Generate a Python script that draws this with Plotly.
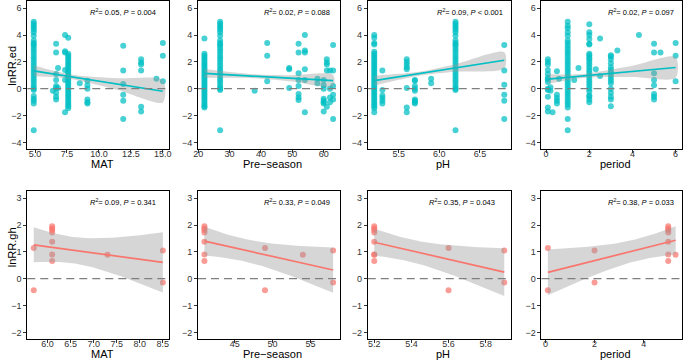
import numpy as np
import plotly.graph_objects as go

# ---------------- data ----------------
# top row: lnRR.ed   (x value of each column -> list of y values)
ed_mat_x = [4.9, 6.4, 6.65, 6.8, 7.35, 7.6, 8.5, 9.1, 11.9, 13.3, 14.5, 15.0]
ed_mat_y = [
    [5.0, 4.85, 4.7, 4.55, 4.4, 4.2, 3.95, 3.6, 3.4, 3.3, 3.15, 2.95, 2.75, 2.55, 2.35, 2.15, 1.95,
     1.75, 1.55, 1.35, 1.15, 0.95, 0.75, 0.55, 0.35, 0.15, 0.0, -0.1, -0.55, -0.75, -0.9, -1.1, -3.1],
    [-0.15],
    [3.35, 2.7, 1.1, 0.65, 0.2, 0.05, -0.3, -0.6, -0.8],
    [1.55, 0.05],
    [4.0, 2.8, 2.7, 1.4, 0.65, -1.75],
    [3.8, 2.6, 2.45, 2.3, 2.15, 2.0, 1.85, 1.7, 1.55, 1.4, 1.25, 1.1, 0.95, 0.8, 0.65, 0.5, 0.35, 0.2,
     0.05, -0.1, -0.25, -0.4, -0.55, -0.7, -0.85, -1.0, -1.15, -1.3, -1.45],
    [0.4],
    [0.6, 0.25, 0.0, -0.8, -1.0, -1.1],
    [3.2, 1.35, 0.35, -0.45, -0.9, -2.25],
    [2.2, 1.95, 1.8, 1.35, -1.35, -1.7],
    [0.75],
    [3.4, 2.45, 0.55],
]

ed_pre_x = [22, 27, 38, 42, 49, 52, 54, 58, 60, 61, 62, 63]
ed_pre_y = [
    [3.75, 2.6, 2.45, 2.3, 2.15, 2.0, 1.85, 1.7, 1.55, 1.4, 1.25, 1.1, 0.95, 0.8, 0.65, 0.5, 0.35, 0.2,
     0.05, -0.1, -0.25, -0.4, -0.55, -0.7, -0.85, -1.0, -1.15, -1.3, -1.4],
    [5.0, 4.85, 4.7, 4.55, 4.4, 4.2, 3.95, 3.6, 3.4, 3.3, 3.15, 2.95, 2.75, 2.55, 2.35, 2.15, 1.95,
     1.75, 1.55, 1.35, 1.15, 0.95, 0.75, 0.55, 0.35, 0.15, 0.0, -0.1, -3.1],
    [-0.15],
    [3.4, 2.45, 0.55],
    [1.55, 1.45, 0.05],
    [3.35, 2.7, 1.15, 0.65, 0.2, -0.4, -0.65, -0.85],
    [4.0, 2.85, 2.7, 1.45, 0.65, -1.75],
    [0.75, 0.4],
    [0.65, 0.25, 0.0, -0.75, -0.9, -1.0, -1.1, -1.7],
    [2.2, 1.95, 1.8, 1.35, -1.35],
    [1.35, 0.0, -0.65, -1.0],
    [3.25, 1.35, 0.2, -0.45, -0.8, -2.25],
]

ed_ph_x = [5.2, 5.3, 5.6, 5.7, 5.9, 6.2, 6.8]
ed_ph_y = [
    [4.0, 3.8, 3.4, 3.3, 2.75, 2.6, 2.45, 2.3, 2.15, 2.0, 1.85, 1.7, 1.55, 1.4, 1.25, 1.1, 0.95, 0.8,
     0.65, 0.5, 0.35, 0.2, 0.05, -0.1, -0.25, -0.4, -0.55, -0.7, -0.85, -1.0, -1.15, -1.3, -1.45, -1.75],
    [1.35, -0.1, -0.5, -0.7, -0.9, -1.1],
    [2.2, 2.0, 1.8, 1.6, 1.45, 0.05, -1.4, -1.75],
    [0.65, 0.6, 0.2, 0.0, -0.15, -0.8, -0.9, -1.0, -1.1],
    [0.75, 0.4],
    [5.0, 4.85, 4.7, 4.55, 4.4, 4.2, 3.95, 3.6, 3.4, 3.3, 3.15, 2.95, 2.75, 2.55, 2.35, 2.15, 1.95,
     1.75, 1.55, 1.35, 1.15, 0.95, 0.75, 0.55, 0.35, 0.15, 0.0, -0.1, -3.1],
    [3.25, 1.35, 0.3, -0.45, -0.9, -2.25],
]

ed_per_x = [0.08, 0.2, 0.3, 0.5, 0.6, 1.0, 1.3, 1.5, 2.0, 2.3, 2.5, 3.0, 3.3, 4.3, 5.0, 5.3, 6.0]
ed_per_y = [
    [2.2, 2.0, 1.8, 1.4, 1.1, 0.8, 0.7, 0.5, 0.0, -0.1, -0.6, -1.4, -1.7],
    [0.1, -0.15],
    [-1.75],
    [1.3, -0.45, -0.7, -0.9, -1.1],
    [0.75],
    [5.0, 4.7, 4.5, 4.2, 3.95, 3.6, 3.4, 3.2, 3.0, 2.8, 2.6, 2.4, 2.2, 2.0, 1.8, 1.6, 1.4, 1.2, 1.0,
     0.8, 0.6, 0.4, 0.2, 0.0, -0.2, -0.4, -0.6, -0.8, -1.0, -1.2, -1.4, -2.25, -3.1],
    [0.65],
    [1.55],
    [4.8, 4.2, 4.0, 3.7, 3.35, 3.3, 2.6, 2.5, 2.3, 2.2, 2.0, 1.8, 1.6, 1.4, 1.2, 1.0, 0.8, 0.6, 0.4,
     0.2, 0.0, -0.2, -0.5, -0.6, -0.8, -1.0],
    [1.45],
    [3.75, 0.95],
    [2.5, 2.4, 2.2, 1.9, 1.6, 1.4, 1.2, 1.0, 0.8, 0.6, 0.4, 0.0, -0.3, -0.6, -0.8, -1.3],
    [2.85],
    [4.0],
    [3.35, 2.7, 1.15, 0.65, 0.25, -0.4, -0.6, -0.8],
    [2.7],
    [3.4, 2.45, 0.55],
]

# top-row linear fits with 95% confidence band at a few x positions
ed_fit_x = [[4.9, 6.5, 8.0, 11.5, 15.0], [22, 30, 39.3, 50, 63], [5.2, 5.5, 5.79, 6.2, 6.8],
            [0.1, 1.0, 1.84, 4.0, 6.0]]
ed_fit_y = [[1.33, 1.09, 0.86, 0.34, -0.19], [1.14, 1.035, 0.912, 0.771, 0.60],
            [0.60, 0.885, 1.16, 1.55, 2.12], [0.72, 0.851, 0.974, 1.289, 1.58]]
ed_fit_hi = [[1.73, 1.33, 1.03, 0.78, 0.64], [1.47, 1.253, 1.062, 1.007, 1.03],
             [0.97, 1.109, 1.31, 1.83, 2.72], [1.07, 1.065, 1.124, 1.709, 2.35]]
ed_fit_lo = [[0.93, 0.85, 0.69, -0.10, -1.02], [0.81, 0.817, 0.762, 0.535, 0.17],
             [0.23, 0.661, 1.01, 1.27, 1.52], [0.37, 0.637, 0.824, 0.869, 0.81]]

# bottom row: lnRR.gh (12 observations)
gh_y = [1.14, -0.43, 1.95, 1.87, 1.81, 1.72, 1.38, 0.90, 0.66, 0.89, 1.05, -0.14]
gh_mat = [5.7, 5.7, 6.1, 6.1, 6.1, 6.1, 6.1, 6.1, 6.1, 7.3, 8.5, 8.5]
gh_pre = [49, 49, 41, 41, 41, 41, 41, 41, 41, 54, 58, 58]
gh_ph = [5.6, 5.6, 5.2, 5.2, 5.2, 5.2, 5.2, 5.2, 5.2, 5.2, 5.9, 5.9]
gh_per = [0.1, 0.1, 5.0, 5.0, 5.0, 5.0, 5.0, 5.0, 5.0, 5.3, 2.0, 2.0]

x_titles = ["MAT", "Pre\u2212season", "pH", "period"]
y_titles = ["lnRR.ed", "lnRR.gh"]
stats_ed = ["0.05, <i>P</i> = 0.004", "0.02, <i>P</i> = 0.088", "0.09, <i>P</i> < 0.001", "0.02, <i>P</i> = 0.097"]
stats_gh = ["0.09, <i>P</i> = 0.341", "0.33, <i>P</i> = 0.049", "0.35, <i>P</i> = 0.043", "0.38, <i>P</i> = 0.033"]
top_ticks = [[5, 7.5, 10, 12.5, 15], [20, 30, 40, 50, 60], [5.5, 6.0, 6.5], [0, 2, 4, 6]]
top_fmt = [".1f", "d", ".1f", "d"]
bot_ticks = [[6.0, 6.5, 7.0, 7.5, 8.0, 8.5], [45, 50, 55], [5.2, 5.4, 5.6, 5.8], [0, 2, 4]]
bot_fmt = [".1f", "d", ".1f", "d"]

# ---------------- helpers ----------------
W, H = 685, 360
FONT = "Liberation Sans, Arial, sans-serif"
TEAL = "#00BFC4"
RED = "#F8766D"


def expand(cols_x, cols_y):
    xs, ys = [], []
    for xv, yl in zip(cols_x, cols_y):
        xs += [xv] * len(yl)
        ys += list(yl)
    return np.array(xs, float), np.array(ys, float)


def t975(df):
    z = 1.959964
    g1 = (z**3 + z) / 4
    g2 = (5 * z**5 + 16 * z**3 + 3 * z) / 96
    g3 = (3 * z**7 + 19 * z**5 + 17 * z**3 - 15 * z) / 384
    g4 = (79 * z**9 + 776 * z**7 + 1482 * z**5 - 1920 * z**3 - 945 * z) / 92160
    return z + g1 / df + g2 / df**2 + g3 / df**3 + g4 / df**4


def lm_fit(x, y):
    n = len(x)
    xm, ym = x.mean(), y.mean()
    sxx = ((x - xm) ** 2).sum()
    b = ((x - xm) * (y - ym)).sum() / sxx
    a = ym - b * xm
    res = y - (a + b * x)
    s = np.sqrt((res**2).sum() / (n - 2))
    g = np.linspace(x.min(), x.max(), 80)
    f = a + b * g
    se = s * np.sqrt(1.0 / n + (g - xm) ** 2 / sxx)
    t = t975(n - 2)
    return g, f, f - t * se, f + t * se


# frames in pixels (left, right) and (top, bottom)
xpix = [(22.5, 166), (195, 338), (366.5, 511), (542, 684)]
ypix = [(0.5, 148.5), (191, 339)]

panels = []
for i, (cx, cy) in enumerate([(ed_mat_x, ed_mat_y), (ed_pre_x, ed_pre_y), (ed_ph_x, ed_ph_y), (ed_per_x, ed_per_y)]):
    x, y = expand(cx, cy)
    fit = (np.array(ed_fit_x[i]), np.array(ed_fit_y[i]), np.array(ed_fit_lo[i]), np.array(ed_fit_hi[i]))
    panels.append(dict(x=x, y=y, row=0, col=i, color=TEAL, ticks=top_ticks[i], fmt=top_fmt[i],
                       yr=[-4.5, 6.5], yt=[-4, -2, 0, 2, 4, 6], stat=stats_ed[i], fit=fit, shape="spline"))
for i, gx in enumerate([gh_mat, gh_pre, gh_ph, gh_per]):
    x = np.array(gx, float)
    y = np.array(gh_y, float)
    panels.append(dict(x=x, y=y, row=1, col=i, color=RED,
                       ticks=bot_ticks[i], fmt=bot_fmt[i], yr=[-2.25, 3.25], yt=[-2, -1, 0, 1, 2, 3],
                       stat=stats_gh[i], fit=lm_fit(x, y), shape="linear"))

fig = go.Figure()
layout = dict(width=W, height=H, margin=dict(l=0, r=0, t=0, b=0), paper_bgcolor="white",
              plot_bgcolor="white", showlegend=False, font=dict(family=FONT, size=10, color="#333333"))
annotations = []
shapes = []

stat_cx = [[119.5, 295.5, 470, 642.5], [119.5, 295.5, 461.5, 642.5]]
stat_cy = [10.7, 201.7]

for k, p in enumerate(panels):
    idx = k + 1
    xa = "x" if idx == 1 else f"x{idx}"
    ya = "y" if idx == 1 else f"y{idx}"
    x0, x1 = xpix[p["col"]]
    y0, y1 = ypix[p["row"]]
    rng = p["x"].max() - p["x"].min()
    xr = [p["x"].min() - 0.05 * rng, p["x"].max() + 0.05 * rng]
    axis_common = dict(showgrid=False, zeroline=False, showline=True, linecolor="black", linewidth=1,
                       mirror=True, ticks="outside", ticklen=3, tickwidth=1, tickcolor="#333333",
                       tickfont=dict(family=FONT, size=9, color="#333333"))
    layout["xaxis" if idx == 1 else f"xaxis{idx}"] = dict(
        domain=[x0 / W, x1 / W], anchor=ya, range=xr, tickvals=p["ticks"], tickformat=p["fmt"],
        ticklabelstandoff=-7, **axis_common)
    layout["yaxis" if idx == 1 else f"yaxis{idx}"] = dict(
        domain=[1 - y1 / H, 1 - y0 / H], anchor=xa, range=p["yr"], tickvals=p["yt"],
        ticklabelstandoff=0, **axis_common)

    # points
    fig.add_trace(go.Scatter(x=p["x"], y=p["y"], mode="markers", xaxis=xa, yaxis=ya,
                             marker=dict(size=6, color=p["color"], opacity=0.72, line=dict(width=0)),
                             hoverinfo="skip"))
    # linear fit with 95% CI
    g, f, lo, hi = p["fit"]
    fig.add_trace(go.Scatter(x=np.concatenate([g, g[::-1]]), y=np.concatenate([hi, lo[::-1]]),
                             mode="lines", fill="toself", fillcolor="rgba(153,153,153,0.4)",
                             line=dict(width=0, shape=p["shape"], smoothing=0.8), xaxis=xa, yaxis=ya,
                             hoverinfo="skip"))
    fig.add_trace(go.Scatter(x=g, y=f, mode="lines", line=dict(color=p["color"], width=1.7),
                             xaxis=xa, yaxis=ya, hoverinfo="skip"))
    # zero reference line
    shapes.append(dict(type="line", xref=f"{xa} domain", yref=ya, x0=0, x1=1, y0=0, y1=0,
                       line=dict(color="#7F7F7F", width=1.2, dash="8px,5px")))
    # stats label
    annotations.append(dict(xref="paper", yref="paper", x=stat_cx[p["row"]][p["col"]] / W,
                            y=1 - stat_cy[p["row"]] / H, xanchor="center", yanchor="middle",
                            showarrow=False, text="<i>R</i><sup>2</sup>= " + p["stat"],
                            font=dict(family=FONT, size=7.5, color="black")))
    # x title
    xt_y = 163.5 if p["row"] == 0 else 353.5
    annotations.append(dict(xref="paper", yref="paper", x=((x0 + x1) / 2 + 4) / W, y=1 - xt_y / H,
                            xanchor="center", yanchor="middle", showarrow=False,
                            text=x_titles[p["col"]], font=dict(family=FONT, size=11, color="black")))

# y titles
for r, (cy_) in enumerate([65, 247]):
    annotations.append(dict(xref="paper", yref="paper", x=7 / W, y=1 - cy_ / H, xanchor="center",
                            yanchor="middle", showarrow=False, textangle=-90, text=y_titles[r],
                            font=dict(family=FONT, size=11, color="black")))

layout["annotations"] = annotations
layout["shapes"] = shapes
fig.update_layout(**layout)
fig.write_html("out.html", config={"displayModeBar": False},
               post_script="document.body.style.margin='0';document.body.style.padding='0';")
